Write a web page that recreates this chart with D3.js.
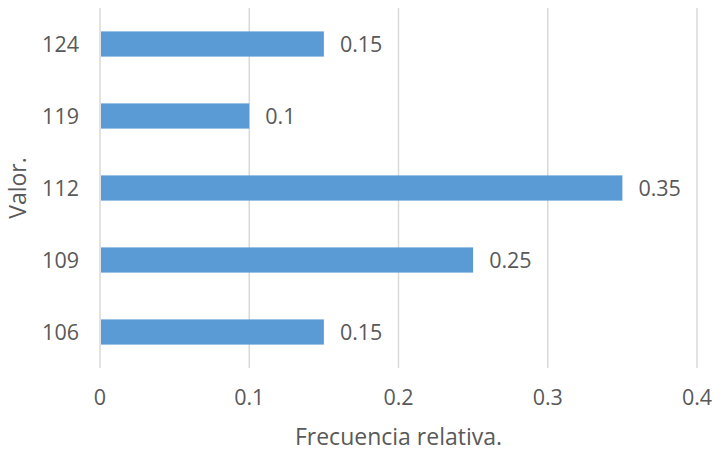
<!DOCTYPE html>
<html>
<head>
<meta charset="utf-8">
<script src="https://cdn.jsdelivr.net/npm/d3@7"></script>
<style>
  body { margin: 0; background: #fff; }
  text { font-family: "Open Sans", "Noto Sans", sans-serif; fill: #595959; }
</style>
</head>
<body>
<div id="chart"></div>
<script>
// Data
const categories = ["124", "119", "112", "109", "106"];
const values = [0.15, 0.1, 0.35, 0.25, 0.15];
const xTicks = [0, 0.1, 0.2, 0.3, 0.4];

const width = 720, height = 458;
const margin = { top: 8, right: 23, bottom: 90, left: 100 };

const svg = d3.select("#chart")
    .append("svg")
    .attr("width", width)
    .attr("height", height);

const x = d3.scaleLinear()
    .domain([0, 0.4])
    .range([margin.left, width - margin.right]);

const y = d3.scaleBand()
    .domain(categories)
    .range([margin.top, height - margin.bottom])
    .paddingInner(0.65)
    .paddingOuter(0.325);

// gridlines
svg.append("g")
    .selectAll("line")
    .data(xTicks)
    .join("line")
    .attr("x1", d => x(d))
    .attr("x2", d => x(d))
    .attr("y1", margin.top)
    .attr("y2", height - margin.bottom)
    .attr("stroke", "#d9d9d9")
    .attr("stroke-width", 1.5);

// bars
svg.append("g")
    .selectAll("rect")
    .data(values)
    .join("rect")
    .attr("x", x(0) + 1)
    .attr("y", (d, i) => y(categories[i]))
    .attr("width", d => x(d) - x(0) - 1)
    .attr("height", y.bandwidth())
    .attr("fill", "#5b9bd5");

// data labels
svg.append("g")
    .selectAll("text")
    .data(values)
    .join("text")
    .attr("x", d => x(d) + 16)
    .attr("y", (d, i) => y(categories[i]) + y.bandwidth() / 2)
    .attr("dy", "0.35em")
    .attr("font-size", 21.5)
    .text(d => d);

// y labels
svg.append("g")
    .selectAll("text")
    .data(categories)
    .join("text")
    .attr("x", 79)
    .attr("y", d => y(d) + y.bandwidth() / 2)
    .attr("dy", "0.35em")
    .attr("text-anchor", "end")
    .attr("font-size", 21.5)
    .text(d => d);

// x tick labels
svg.append("g")
    .selectAll("text")
    .data(xTicks)
    .join("text")
    .attr("x", d => x(d))
    .attr("y", 397)
    .attr("dy", "0.35em")
    .attr("text-anchor", "middle")
    .attr("font-size", 21.5)
    .text(d => d);

// axis titles
svg.append("text")
    .attr("x", (x(0) + x(0.4)) / 2)
    .attr("y", 437)
    .attr("dy", "0.35em")
    .attr("text-anchor", "middle")
    .attr("font-size", 23)
    .text("Frecuencia relativa.");

svg.append("text")
    .attr("transform", `translate(18, ${(margin.top + height - margin.bottom) / 2}) rotate(-90)`)
    .attr("dy", "0.35em")
    .attr("text-anchor", "middle")
    .attr("font-size", 23)
    .text("Valor.");
</script>
</body>
</html>
